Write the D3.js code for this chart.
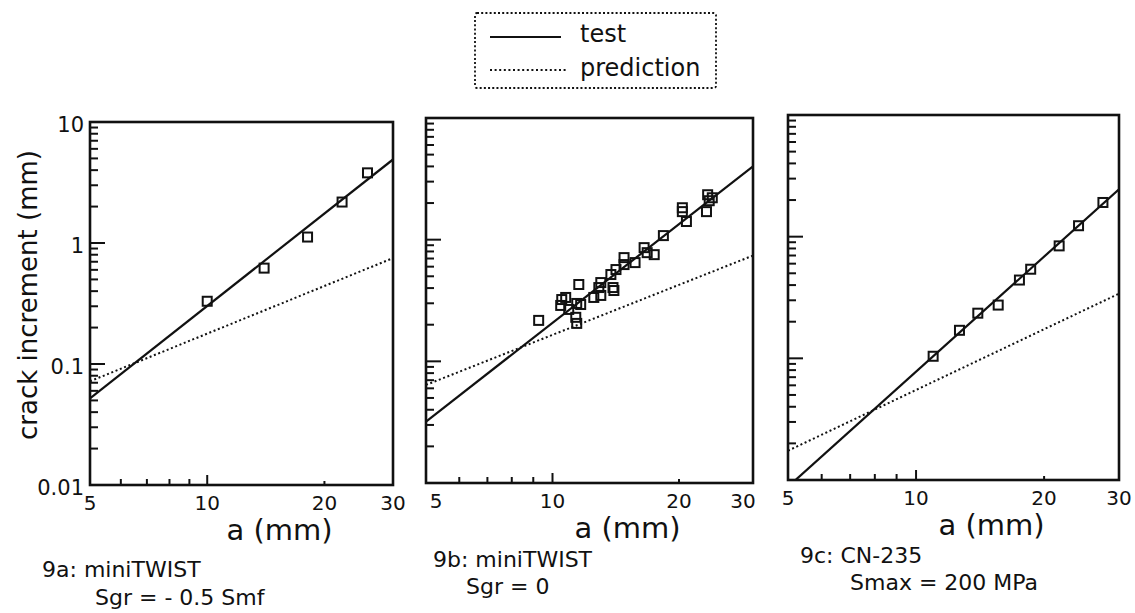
<!DOCTYPE html>
<html lang="en">

<head>
    <meta charset="UTF-8">
    <title>Crack increment vs crack length</title>
    <style>
        body {
            margin: 0;
            background: #fff;
        }

        svg text {
            font-family: "DejaVu Sans", "Liberation Sans", sans-serif;
            fill: #111;
        }
    </style>
</head>

<body>
    <script src="https://d3js.org/d3.v7.min.js"></script>
    <script>

        // data
        let xTicks = [5, 10, 20, 30];
        let xMinor = [6, 7, 8, 9, 20];
        let yTicks = [0.01, 0.1, 1, 10];
        let yTickLabels = ["0.01", "0.1", "1", "10"];

        let titles1 = ["9a: miniTWIST", "9b: miniTWIST", "9c: CN-235"];
        let titles2 = ["Sgr = - 0.5 Smf", "Sgr = 0", "Smax = 200 MPa"];

        let lineEnds = [5, 30];   // a values where the fitted lines are given

        // 9a
        let a9a = [10, 14.0, 18.1, 22.2, 25.8];
        let d9a = [0.33, 0.62, 1.12, 2.18, 3.8];
        let test9a = [0.052, 4.9];
        let pred9a = [0.072, 0.75];

        // 9b
        let a9b = [9.27, 10.52, 10.75, 10.46, 10.93, 11.42, 11.67, 11.55, 11.36, 11.42, 12.54, 13.03, 12.89, 13.03,
            13.93, 14.0, 13.77, 14.16, 14.8, 14.8, 15.72, 16.52, 16.8, 17.46, 18.36, 20.37, 20.37, 20.83, 23.25,
            23.4, 23.6, 24.0];
        let d9b = [0.217, 0.322, 0.335, 0.288, 0.267, 0.299, 0.293, 0.428, 0.23, 0.205, 0.335, 0.348, 0.404, 0.444,
            0.404, 0.382, 0.517, 0.568, 0.712, 0.624, 0.648, 0.86, 0.782, 0.753, 1.08, 1.83, 1.70, 1.41, 1.70,
            2.34, 2.09, 2.21];
        let test9b = [0.032, 4.0];
        let pred9b = [0.064, 0.74];

        // 9c
        let a9c = [10.97, 12.65, 13.97, 15.6, 17.5, 18.6, 21.7, 24.1, 27.5];
        let d9c = [0.104, 0.17, 0.235, 0.274, 0.44, 0.54, 0.84, 1.23, 1.91];
        let test9c = [0.0088, 2.45];
        let pred9c = [0.0174, 0.34];

        let panels = [
            { a: a9a, d: d9a, test: test9a, pred: pred9a },
            { a: a9b, d: d9b, test: test9b, pred: pred9b },
            { a: a9c, d: d9c, test: test9c, pred: pred9c },
        ];

        // layout of each frame (scan is slightly skewed)
        let frames = [
            { l: 90, r: 393, t: 122, b: 485, nudge: 0, yLabels: true, tx: 42, ty: 569, sx: 95, sy: 597 },
            { l: 426, r: 753, t: 118, b: 483, nudge: 10, yLabels: false, tx: 433, ty: 559, sx: 466, sy: 586 },
            { l: 788, r: 1119, t: 115, b: 480, nudge: 0, yLabels: false, tx: 800, ty: 555, sx: 850, sy: 582 },
        ];

        let W = 1135, H = 613;
        let s = d3.select('body').append('svg')
            .attr('width', W)
            .attr('height', H);

        // 1. legend
        let lg = s.append('g').attr('class', 'legend');
        lg.append('rect')
            .attr('x', 475).attr('y', 13)
            .attr('width', 241).attr('height', 75)
            .attr('rx', 2)
            .attr('fill', 'none').attr('stroke', '#111')
            .attr('stroke-width', 1.8).attr('stroke-dasharray', '2,2.2');
        lg.append('line')
            .attr('x1', 490).attr('x2', 561).attr('y1', 37).attr('y2', 37)
            .attr('stroke', '#111').attr('stroke-width', 2.2);
        lg.append('line')
            .attr('x1', 490).attr('x2', 566).attr('y1', 70).attr('y2', 70)
            .attr('stroke', '#111').attr('stroke-width', 2).attr('stroke-dasharray', '2,2.6');
        lg.append('text').attr('x', 580).attr('y', 42).style('font-size', '24px').text('test');
        lg.append('text').attr('x', 580).attr('y', 76).style('font-size', '24px').text('prediction');

        // 2. y axis title
        s.append('text')
            .attr('transform', 'translate(37,295) rotate(-90)')
            .attr('text-anchor', 'middle')
            .style('font-size', '26px')
            .text('crack increment (mm)');

        // 3. panels
        panels.forEach((p, i) => {
            let f = frames[i];
            let x = d3.scaleLog().domain([5, 30]).range([f.l, f.r]);
            let y = d3.scaleLog().domain([0.01, 10]).range([f.b, f.t]);
            let g = s.append('g').attr('class', 'panel');

            g.append('clipPath').attr('id', 'clip' + i)
                .append('rect')
                .attr('x', f.l).attr('y', f.t)
                .attr('width', f.r - f.l).attr('height', f.b - f.t);

            // y ticks, drawn inward from the left edge
            let yMinor = [];
            for (let dec of [0.01, 0.1, 1]) {
                for (let k = 2; k <= 9; k++) yMinor.push(dec * k);
            }
            g.selectAll('.ymin').data(yMinor).enter().append('line')
                .attr('x1', f.l).attr('x2', f.l + 8)
                .attr('y1', d => y(d)).attr('y2', d => y(d))
                .attr('stroke', '#111').attr('stroke-width', 2);
            g.selectAll('.ymaj').data(yTicks).enter().append('line')
                .attr('x1', f.l).attr('x2', f.l + 15)
                .attr('y1', d => y(d)).attr('y2', d => y(d))
                .attr('stroke', '#111').attr('stroke-width', 2);

            // x ticks, drawn upward from the bottom edge
            g.selectAll('.xmin').data(xMinor).enter().append('line')
                .attr('x1', d => x(d)).attr('x2', d => x(d))
                .attr('y1', f.b).attr('y2', d => f.b - (d == 20 ? 4 : 6))
                .attr('stroke', '#111').attr('stroke-width', 2);
            g.append('line')
                .attr('x1', x(10)).attr('x2', x(10))
                .attr('y1', f.b).attr('y2', f.b - 10)
                .attr('stroke', '#111').attr('stroke-width', 2);

            // fitted lines
            let line = d3.line().x(d => x(d[0])).y(d => y(d[1]));
            g.append('path')
                .datum(lineEnds.map((a, j) => [a, p.test[j]]))
                .attr('d', line)
                .attr('clip-path', 'url(#clip' + i + ')')
                .attr('fill', 'none').attr('stroke', '#111').attr('stroke-width', 2.2);
            g.append('path')
                .datum(lineEnds.map((a, j) => [a, p.pred[j]]))
                .attr('d', line)
                .attr('clip-path', 'url(#clip' + i + ')')
                .attr('fill', 'none').attr('stroke', '#111').attr('stroke-width', 2)
                .attr('stroke-dasharray', '2,2.6');

            // test points
            let sq = 9;
            g.selectAll('.pt').data(p.a.map((a, j) => [a, p.d[j]])).enter().append('rect')
                .attr('x', d => x(d[0]) - sq / 2)
                .attr('y', d => y(d[1]) - sq / 2)
                .attr('width', sq).attr('height', sq)
                .attr('fill', 'none').attr('stroke', '#111').attr('stroke-width', 2);

            // frame
            g.append('rect')
                .attr('x', f.l).attr('y', f.t)
                .attr('width', f.r - f.l).attr('height', f.b - f.t)
                .attr('fill', 'none').attr('stroke', '#111').attr('stroke-width', 2.6);

            // x tick labels
            g.selectAll('.xl').data(xTicks).enter().append('text')
                .attr('x', (d, j) => x(d) + (j == 0 ? f.nudge : j == xTicks.length - 1 ? -f.nudge : 0))
                .attr('y', f.b + 25)
                .attr('text-anchor', 'middle')
                .style('font-size', '20px')
                .text(d => d);

            // y tick labels (first panel only)
            if (f.yLabels) {
                g.selectAll('.yl').data(yTicks).enter().append('text')
                    .attr('x', f.l - 6)
                    .attr('y', d => y(d) + 10)
                    .attr('text-anchor', 'end')
                    .style('font-size', '21px')
                    .text((d, j) => yTickLabels[j]);
            }

            // axis title and captions
            g.append('text')
                .attr('x', (f.l + f.r) / 2 + 38)
                .attr('y', f.b + 55)
                .attr('text-anchor', 'middle')
                .style('font-size', '29px')
                .text('a (mm)');
            g.append('text').attr('x', f.tx).attr('y', f.ty + 8)
                .style('font-size', '22px').text(titles1[i]);
            g.append('text').attr('x', f.sx).attr('y', f.sy + 8)
                .style('font-size', '22px').text(titles2[i]);
        });
    </script>
</body>

</html>
